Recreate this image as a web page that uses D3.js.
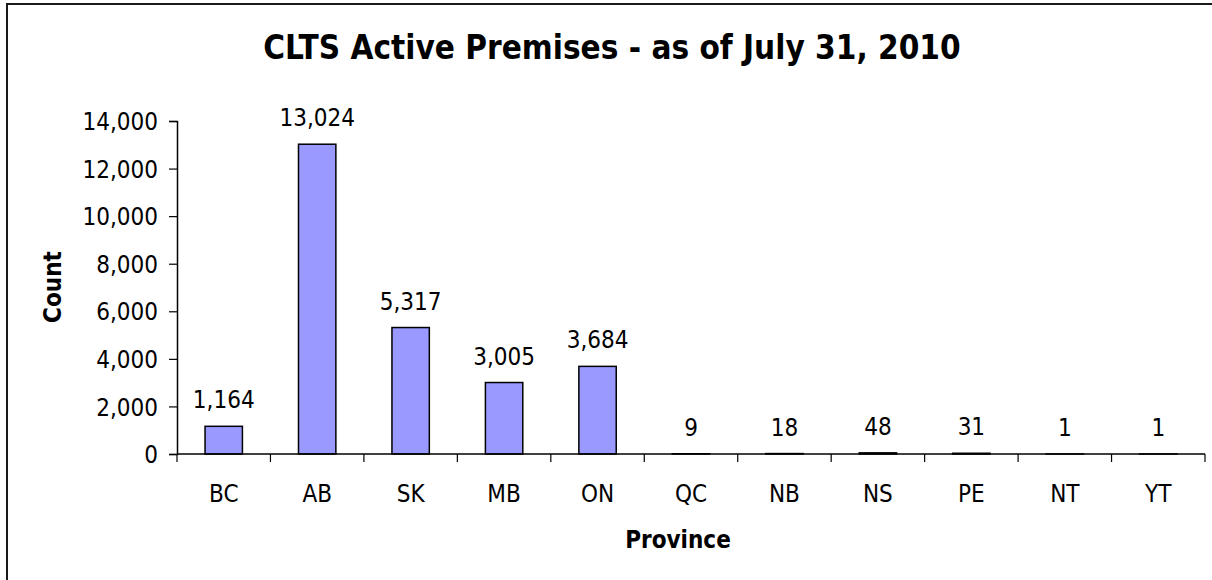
<!DOCTYPE html>
<html>
<head>
<meta charset="utf-8">
<script src="https://cdn.jsdelivr.net/npm/d3@7"></script>
<style>
    body { margin: 0; background: #ffffff; }
    svg text { font-family: "DejaVu Sans Condensed", "DejaVu Sans", sans-serif; font-stretch: condensed; }
</style>
</head>
<body>
<script>
// 数据
const provinces = ['BC', 'AB', 'SK', 'MB', 'ON', 'QC', 'NB', 'NS', 'PE', 'NT', 'YT'];
const counts = [1164, 13024, 5317, 3005, 3684, 9, 18, 48, 31, 1, 1];
const yTicks = [0, 2000, 4000, 6000, 8000, 10000, 12000, 14000];

const svgWidth = 1212, svgHeight = 580;
const plot = {left: 177, right: 1205, top: 121, bottom: 454};

const svg = d3.select('body')
    .append('svg')
    .attr('width', svgWidth)
    .attr('height', svgHeight);

// 外框
svg.append('rect')
    .attr('x', 7).attr('y', 4)
    .attr('width', 1300).attr('height', 700)
    .attr('fill', 'none')
    .attr('stroke', '#1a1a1a')
    .attr('stroke-width', 2);

// 比例尺
const x = d3.scaleBand()
    .domain(provinces)
    .range([plot.left, plot.right])
    .paddingInner(0.6)
    .paddingOuter(0.3);
const xBand = d3.scaleBand()
    .domain(provinces)
    .range([plot.left, plot.right]);
const y = d3.scaleLinear()
    .domain([0, 14000])
    .range([plot.bottom, plot.top]);

const fmt = d3.format(',');

// y 轴
const yAxis = svg.append('g')
    .attr('transform', `translate(${plot.left},0)`)
    .call(d3.axisLeft(y).tickValues(yTicks).tickFormat(fmt).tickSize(8).tickPadding(11));
yAxis.select('.domain').attr('stroke', '#000').attr('stroke-width', 1.5);
yAxis.selectAll('.tick line').attr('stroke', '#000').attr('stroke-width', 1.2);
yAxis.selectAll('.tick text')
    .attr('font-size', 24)
    .attr('fill', '#000')
    .attr('dy', '0.36em');

// 柱子
svg.append('g')
    .selectAll('rect')
    .data(provinces)
    .enter()
    .append('rect')
    .attr('x', d => x(d))
    .attr('width', x.bandwidth())
    .attr('y', (d, i) => y(counts[i]))
    .attr('height', (d, i) => y(0) - y(counts[i]))
    .attr('fill', '#9999ff')
    .attr('stroke', '#000')
    .attr('stroke-width', 1.5);

// x 轴
const xAxisG = svg.append('g')
    .attr('transform', `translate(0,${plot.bottom})`);
xAxisG.append('line')
    .attr('x1', plot.left).attr('x2', plot.right)
    .attr('stroke', '#000').attr('stroke-width', 1.5);
xAxisG.selectAll('line.tick')
    .data(provinces.concat(['end']))
    .enter()
    .append('line')
    .attr('class', 'tick')
    .attr('x1', (d, i) => i < provinces.length ? xBand(d) : plot.right)
    .attr('x2', (d, i) => i < provinces.length ? xBand(d) : plot.right)
    .attr('y1', 0).attr('y2', 8)
    .attr('stroke', '#000').attr('stroke-width', 1.2);
xAxisG.selectAll('text')
    .data(provinces)
    .enter()
    .append('text')
    .attr('x', d => xBand(d) + xBand.bandwidth() / 2)
    .attr('y', 48)
    .attr('text-anchor', 'middle')
    .attr('font-size', 24)
    .text(d => d);

// 数据标签
svg.append('g')
    .selectAll('text')
    .data(provinces)
    .enter()
    .append('text')
    .attr('x', d => xBand(d) + xBand.bandwidth() / 2)
    .attr('y', (d, i) => y(counts[i]) - 18)
    .attr('text-anchor', 'middle')
    .attr('font-size', 24)
    .text((d, i) => fmt(counts[i]));

// 标题
svg.append('text')
    .attr('x', 612).attr('y', 59)
    .attr('text-anchor', 'middle')
    .attr('font-size', 33)
    .attr('font-weight', 'bold')
    .text('CLTS Active Premises - as of July 31, 2010');

// 轴标题
svg.append('text')
    .attr('transform', 'translate(61,287) rotate(-90)')
    .attr('text-anchor', 'middle')
    .attr('font-size', 24)
    .attr('font-weight', 'bold')
    .text('Count');
svg.append('text')
    .attr('x', 678).attr('y', 548)
    .attr('text-anchor', 'middle')
    .attr('font-size', 24)
    .attr('font-weight', 'bold')
    .text('Province');
</script>
</body>
</html>
